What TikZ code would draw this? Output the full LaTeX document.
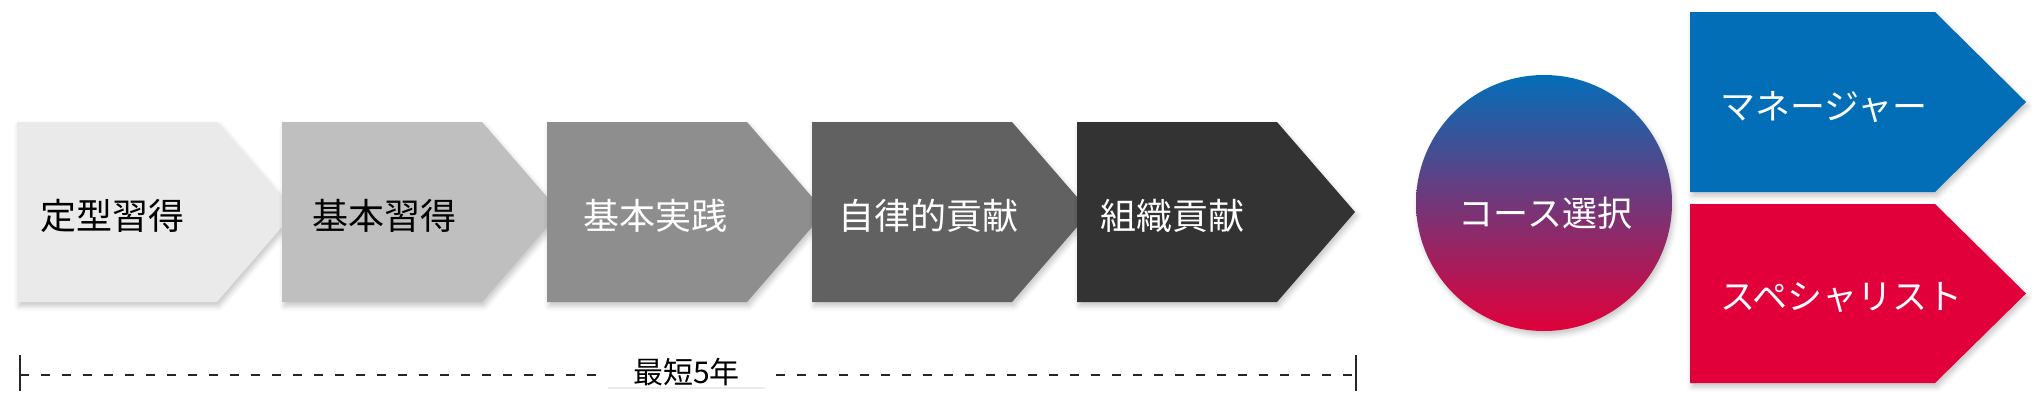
\documentclass[tikz,border=0pt]{standalone}
\usepackage{fontspec}
\setmainfont{Noto Sans CJK JP}
\usetikzlibrary{shadows.blur}
\definecolor{g1}{HTML}{EAEAEA}
\definecolor{g2}{HTML}{BFBFBF}
\definecolor{g3}{HTML}{8E8E8E}
\definecolor{g4}{HTML}{616161}
\definecolor{g5}{HTML}{333333}
\definecolor{cblue}{HTML}{036EB8}
\definecolor{cred}{HTML}{E1003A}
\begin{document}
\begin{tikzpicture}[x=1pt,y=-1pt,
  shd/.style={blur shadow={shadow xshift=2pt,shadow yshift=-4pt,shadow blur radius=5pt,shadow opacity=22}},
  steptext/.style={anchor=west,inner sep=0pt,font=\fontsize{36}{40}\selectfont},
  sidetext/.style={anchor=west,inner sep=0pt,text=white,font=\fontsize{35}{40}\selectfont},
  dashline/.style={draw=black!85,line width=2pt,dash pattern=on 9pt off 12pt},
  tickline/.style={draw=black!85,line width=2pt}]
\useasboundingbox (0,0) rectangle (2044,408);
% steps
\foreach \x/\c in {17/g1,282/g2,547/g3,812/g4,1077/g5}{
  \fill[\c,shd] (\x,122) -- ++(200,0) -- ++(78,90) -- ++(-78,90) -- ++(-200,0) -- cycle;
}
\node[steptext,text=black] (t1) at (40,216) {定型習得};
\node[steptext,text=black] (t2) at (312,216) {基本習得};
\node[steptext,text=white] (t3) at (583,216) {基本実践};
\node[steptext,text=white] (t4) at (838,216) {自律的貢献};
\node[steptext,text=white] (t5) at (1100,216) {組織貢献};
% circle
\node[circle,minimum size=256pt,inner sep=0pt,top color=cblue,bottom color=cred,shd] (c) at (1544,203) {};
\node[inner sep=0pt,text=white,font=\fontsize{35}{40}\selectfont] (ct) at (1545.5,213) {コース選択};
% side arrows
\fill[cblue,shd] (1690,12) -- (1935,12) -- (2026,102) -- (1935,192) -- (1690,192) -- cycle;
\fill[cred,shd] (1690,204) -- (1935,204) -- (2026,293.5) -- (1935,383) -- (1690,383) -- cycle;
\node[sidetext] (m) at (1720,107) {マネージャー};
\node[sidetext] (s) at (1720,298) {スペシャリスト};
% span
\coordinate (L) at (20,375);
\coordinate (R) at (1356,375);
\coordinate (Lt) at (20,355);
\coordinate (Lb) at (20,391);
\coordinate (Rt) at (1356,355);
\coordinate (Rb) at (1356,391);
\draw[dashline] (L) -- (R);
\draw[tickline] (Lt) -- (Lb);
\draw[tickline] (Rt) -- (Rb);
\node[fill=white,minimum width=157pt,minimum height=32pt,inner sep=0pt,font=\fontsize{30}{34}\selectfont] (span) at (686.5,372) {最短5年};
\draw[black!8,line width=1.5pt] (span.south west) -- (span.south east);
\end{tikzpicture}
\end{document}
